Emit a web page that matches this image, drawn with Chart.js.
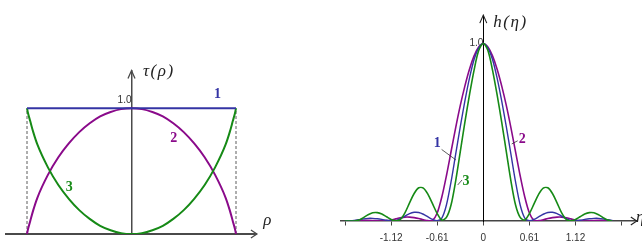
<!DOCTYPE html>
<html>
<head>
<meta charset="utf-8">
<script src="https://cdn.jsdelivr.net/npm/chart.js@4.4.1/dist/chart.umd.min.js"></script>
<style>
  body { margin: 0; background: #fff; }
  canvas { position: absolute; top: 0; }
  #tauChart { left: 0; }
  #hChart { left: 320px; }
</style>
</head>
<body>
<canvas id="tauChart" width="320" height="248"></canvas>
<canvas id="hChart" width="322" height="248"></canvas>
<script>
// Pupil functions tau(rho)
const rho = [-1, -0.99, -0.97, -0.94, -0.9, -0.8, -0.7, -0.6, -0.5, -0.4, -0.3, -0.2, -0.1, 0,
  0.1, 0.2, 0.3, 0.4, 0.5, 0.6, 0.7, 0.8, 0.9, 0.94, 0.97, 0.99, 1];
const tau1 = [1, 1, 1, 1, 1, 1, 1, 1, 1, 1, 1, 1, 1, 1, 1, 1, 1, 1, 1, 1, 1, 1, 1, 1, 1, 1, 1];
const tau2 = [0, 0.04, 0.1, 0.19, 0.29, 0.47, 0.61, 0.72, 0.81, 0.88, 0.935, 0.97, 0.993, 1,
  0.993, 0.97, 0.935, 0.88, 0.81, 0.72, 0.61, 0.47, 0.29, 0.19, 0.1, 0.04, 0];
const tau3 = [1, 0.96, 0.9, 0.81, 0.71, 0.53, 0.39, 0.28, 0.19, 0.12, 0.065, 0.03, 0.007, 0,
  0.007, 0.03, 0.065, 0.12, 0.19, 0.28, 0.39, 0.53, 0.71, 0.81, 0.9, 0.96, 1];
const rhoEdge = [-1, 1];
const tauTicks = [1];

// Point spread functions h(eta)
const eta = [-3.0, -2.9, -2.8, -2.7, -2.6, -2.5, -2.4, -2.3, -2.2, -2.1, -2.0, -1.9, -1.8, -1.7, -1.6,
  -1.5, -1.4, -1.3, -1.2, -1.1, -1.0, -0.9, -0.8, -0.7, -0.6, -0.5, -0.4, -0.3, -0.2, -0.1, 0,
  0.1, 0.2, 0.3, 0.4, 0.5, 0.6, 0.7, 0.8, 0.9, 1.0, 1.1, 1.2, 1.3, 1.4, 1.5, 1.6, 1.7, 1.8, 1.9,
  2.0, 2.1, 2.2, 2.3, 2.4, 2.5, 2.6, 2.7, 2.8];
const h1 = [0, 0.001, 0.003, 0.007, 0.012, 0.015, 0.015, 0.013, 0.009, 0.004, 0, 0.002, 0.013, 0.028, 0.042,
  0.049, 0.048, 0.038, 0.023, 0.009, 0.002, 0.016, 0.09, 0.22, 0.375, 0.53, 0.675, 0.805, 0.91, 0.975, 1,
  0.975, 0.91, 0.805, 0.675, 0.53, 0.375, 0.22, 0.09, 0.016, 0.002, 0.009, 0.023, 0.038, 0.048, 0.049, 0.042, 0.028, 0.013, 0.002,
  0, 0.004, 0.009, 0.013, 0.015, 0.015, 0.012, 0.007, 0.003];
const h2 = [0, 0, 0.001, 0.003, 0.004, 0.004, 0.003, 0.001, 0, 0.002, 0.006, 0.012, 0.018, 0.022, 0.022,
  0.019, 0.014, 0.007, 0.002, 0.004, 0.045, 0.135, 0.255, 0.39, 0.525, 0.65, 0.76, 0.855, 0.93, 0.98, 1,
  0.98, 0.93, 0.855, 0.76, 0.65, 0.525, 0.39, 0.255, 0.135, 0.045, 0.004, 0.002, 0.007, 0.014, 0.019, 0.022, 0.022, 0.018, 0.012,
  0.006, 0.002, 0, 0.001, 0.003, 0.004, 0.004, 0.003, 0.001];
const h3 = [0, 0, 0, 0.005, 0.019, 0.035, 0.046, 0.047, 0.039, 0.024, 0.009, 0.001, 0.009, 0.046, 0.102,
  0.155, 0.187, 0.185, 0.15, 0.096, 0.042, 0.006, 0.02, 0.09, 0.225, 0.39, 0.556, 0.71, 0.85, 0.96, 1,
  0.96, 0.85, 0.71, 0.556, 0.39, 0.225, 0.09, 0.02, 0.006, 0.042, 0.096, 0.15, 0.185, 0.187, 0.155, 0.102, 0.046, 0.009, 0.001,
  0.009, 0.024, 0.039, 0.047, 0.046, 0.035, 0.019, 0.005, 0];
const etaTickPos = [-3, -2, -1, 0, 1, 2, 3];
const etaTickLabels = ['', '-1.12', '-0.61', '0', '0.61', '1.12', ''];
const hTicks = [1];

const BLUE = '#3434a4';
const PURPLE = '#8a0a8a';
const GREEN = '#168a16';

function pts(xs, ys) {
  return xs.map((v, i) => ({ x: v, y: ys[i] }));
}

// flechas de los ejes, textos y líneas guía
const decor = {
  id: 'decor',
  afterDraw(chart, args, opts) {
    const { ctx, chartArea } = chart;
    const sx = chart.scales.x, sy = chart.scales.y;
    const x0 = sx.getPixelForValue(0), y0 = sy.getPixelForValue(0);
    ctx.save();
    ctx.strokeStyle = opts.arrowColor;
    ctx.lineWidth = opts.arrowWidth;
    ctx.beginPath();
    ctx.moveTo(chartArea.right - 6, y0 - 4);
    ctx.lineTo(chartArea.right, y0);
    ctx.lineTo(chartArea.right - 6, y0 + 4);
    ctx.moveTo(x0 - 3.5, chartArea.top + 8);
    ctx.lineTo(x0, chartArea.top);
    ctx.lineTo(x0 + 3.5, chartArea.top + 8);
    ctx.stroke();

    ctx.strokeStyle = '#333';
    ctx.lineWidth = 0.8;
    (opts.leaders || []).forEach(l => {
      ctx.beginPath();
      ctx.moveTo(sx.getPixelForValue(l[0]), sy.getPixelForValue(l[1]));
      ctx.lineTo(sx.getPixelForValue(l[2]), sy.getPixelForValue(l[3]));
      ctx.stroke();
    });

    (opts.texts || []).forEach(t => {
      ctx.font = t.font;
      ctx.fillStyle = t.color;
      ctx.textAlign = t.align || 'center';
      ctx.textBaseline = t.baseline || 'middle';
      ctx.letterSpacing = t.spacing || '0px';
      ctx.fillText(t.text, sx.getPixelForValue(t.x), sy.getPixelForValue(t.y));
    });
    ctx.restore();
  }
};

const tickFont = { family: '"Liberation Sans", Arial, sans-serif', size: 10 };
const numFont = 'bold 14px "Liberation Serif", "Times New Roman", serif';
const titleFont = 'italic 17px "Liberation Serif", "Times New Roman", serif';

new Chart(document.getElementById('tauChart'), {
  type: 'line',
  data: {
    datasets: [
      { data: pts(rho, tau1), borderColor: BLUE, borderWidth: 2 },
      { data: pts(rho, tau3), borderColor: GREEN, borderWidth: 2, cubicInterpolationMode: 'monotone' },
      { data: pts(rho, tau2), borderColor: PURPLE, borderWidth: 2, cubicInterpolationMode: 'monotone' },
      { data: pts([rhoEdge[0], rhoEdge[0]], [0, 1]), borderColor: '#333', borderWidth: 0.8, borderDash: [3, 2] },
      { data: pts([rhoEdge[1], rhoEdge[1]], [0, 1]), borderColor: '#333', borderWidth: 0.8, borderDash: [3, 2] }
    ]
  },
  options: {
    responsive: false,
    animation: false,
    layout: { padding: { left: 6.1, right: 63.1, top: 70.5, bottom: 6.5 } },
    elements: { point: { radius: 0 } },
    plugins: {
      legend: { display: false },
      tooltip: { enabled: false },
      decor: {
        arrowColor: '#4a4a4a', arrowWidth: 1.3,
        texts: [
          { text: '1', x: 0.823, y: 1.114, font: numFont, color: BLUE },
          { text: '2', x: 0.404, y: 0.757, font: numFont, color: PURPLE },
          { text: '3', x: -0.595, y: 0.37, font: numFont, color: GREEN },
          { text: 'τ(ρ)', x: 0.11, y: 1.259, font: titleFont, color: '#222', align: 'left', baseline: 'alphabetic', spacing: '1.5px' },
          { text: 'ρ', x: 1.26, y: 0.072, font: titleFont, color: '#222', align: 'left', baseline: 'alphabetic' }
        ]
      }
    },
    scales: {
      x: {
        type: 'linear', min: -1.2, max: 1.2, position: { y: 0 },
        grid: { display: false },
        ticks: { display: false },
        border: { color: '#4a4a4a', width: 2 }
      },
      y: {
        type: 'linear', min: 0, max: 1.3, position: { x: 0 },
        afterBuildTicks: s => { s.ticks = tauTicks.map(v => ({ value: v })); },
        grid: { display: false },
        ticks: { callback: v => v.toFixed(1), labelOffset: -8, padding: 8, font: tickFont, color: '#333' },
        border: { color: '#4a4a4a', width: 1.5 }
      }
    }
  },
  plugins: [decor]
});

new Chart(document.getElementById('hChart'), {
  type: 'line',
  data: {
    datasets: [
      { data: pts(eta, h3), borderColor: GREEN, borderWidth: 1.6, tension: 0.3 },
      { data: pts(eta, h1), borderColor: BLUE, borderWidth: 1.4, tension: 0.3 },
      { data: pts(eta, h2), borderColor: PURPLE, borderWidth: 1.6, tension: 0.3 }
    ]
  },
  options: {
    responsive: false,
    animation: false,
    layout: { padding: { left: 20.4, right: 5.2, top: 15.1, bottom: 27 } },
    elements: { point: { radius: 0 } },
    plugins: {
      legend: { display: false },
      tooltip: { enabled: false },
      decor: {
        arrowColor: '#222', arrowWidth: 1.1,
        leaders: [[-0.904, 0.403, -0.594, 0.344], [0.616, 0.434, 0.746, 0.452], [-0.555, 0.203, -0.462, 0.231]],
        texts: [
          { text: '1', x: -1.0, y: 0.438, font: numFont, color: BLUE },
          { text: '2', x: 0.844, y: 0.461, font: numFont, color: PURPLE },
          { text: '3', x: -0.375, y: 0.221, font: numFont, color: GREEN },
          { text: 'h(η)', x: 0.217, y: 1.093, font: titleFont, color: '#222', align: 'left', baseline: 'alphabetic', spacing: '1.5px' },
          { text: 'η', x: 3.31, y: -0.005, font: titleFont, color: '#222', align: 'left', baseline: 'alphabetic' }
        ]
      }
    },
    scales: {
      x: {
        type: 'linear', min: -3.1, max: 3.33, position: { y: 0 },
        afterBuildTicks: s => { s.ticks = etaTickPos.map(v => ({ value: v })); },
        grid: { display: true, drawOnChartArea: false, drawTicks: true, tickLength: 4, color: '#444' },
        ticks: { callback: (v, i) => etaTickLabels[i], padding: 7, font: tickFont, color: '#333', maxRotation: 0, autoSkip: false },
        border: { color: '#444', width: 1.5 }
      },
      y: {
        type: 'linear', min: 0, max: 1.16, position: { x: 0 },
        afterBuildTicks: s => { s.ticks = hTicks.map(v => ({ value: v })); },
        grid: { display: false },
        ticks: { callback: v => v.toFixed(1), padding: 1, font: tickFont, color: '#333' },
        border: { color: '#000', width: 1 }
      }
    }
  },
  plugins: [decor]
});
</script>
</body>
</html>
